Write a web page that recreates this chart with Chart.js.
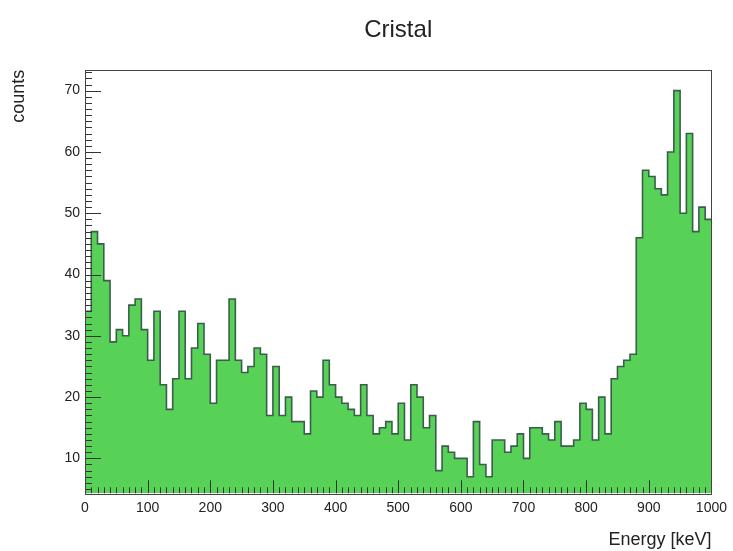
<!DOCTYPE html>
<html>
<head>
<meta charset="utf-8">
<title>Cristal</title>
<script src="https://cdn.jsdelivr.net/npm/chart.js@4/dist/chart.umd.min.js"></script>
<style>
  html, body { margin: 0; padding: 0; background: #fff; }
  canvas { display: block; }
</style>
</head>
<body>
<canvas id="chart" width="733" height="551"></canvas>
<script>
// Histogram: 100 bins of 10 keV between 0 and 1000 keV
const energyMin = 0;
const energyMax = 1000;
const binWidth = 10;
const counts = [
    34, 47, 45, 39, 29, 31, 30, 35, 36, 31,
    26, 34, 22, 18, 23, 34, 23, 28, 32, 27,
    19, 26, 26, 36, 26, 24, 25, 28, 27, 17,
    25, 17, 20, 16, 16, 14, 21, 20, 26, 22,
    20, 19, 18, 17, 22, 17, 14, 15, 16, 14,
    19, 13, 22, 20, 15, 17, 8, 12, 11, 10,
    10, 7, 16, 9, 7, 13, 13, 11, 12, 14,
    10, 15, 15, 14, 13, 16, 12, 12, 13, 19,
    18, 13, 20, 14, 23, 25, 26, 27, 46, 57,
    56, 54, 53, 60, 70, 50, 63, 47, 51, 49
];

// Axis settings
const xTickStep = 100;
const xMinorStep = 10;
const yTickStep = 10;
const yMinorStep = 1;
const yMin = 4.3;
const yMax = 73.4;

const FONT = "'Liberation Sans', Arial, Helvetica, sans-serif";
const TEXT = '#222';

// one point per bin low edge, plus the upper edge to close the last step
const points = counts.map((c, i) => ({ x: energyMin + i * binWidth, y: c }));
points.push({ x: energyMax, y: counts[counts.length - 1] });

// ROOT style frame with inward tick marks
const rootFrame = {
    id: 'rootFrame',
    afterDatasetsDraw(chart) {
        const { ctx, chartArea: a, scales: { x, y } } = chart;
        ctx.save();
        ctx.strokeStyle = '#333';
        ctx.lineWidth = 1;
        ctx.beginPath();
        for (let v = x.min; v <= x.max + 0.001; v += xMinorStep) {
            const px = Math.round(x.getPixelForValue(v)) + 0.5;
            const len = Math.abs(v % xTickStep) < 0.001 ? 13 : 6;
            ctx.moveTo(px, a.bottom);
            ctx.lineTo(px, a.bottom - len);
        }
        for (let v = Math.ceil(y.min); v <= y.max; v += yMinorStep) {
            const py = Math.round(y.getPixelForValue(v)) + 0.5;
            const len = v % yTickStep === 0 ? 16 : 7;
            ctx.moveTo(a.left, py);
            ctx.lineTo(a.left + len, py);
        }
        ctx.stroke();
        ctx.strokeStyle = '#444';
        ctx.strokeRect(Math.round(a.left) + 0.5, Math.round(a.top) + 0.5,
            Math.round(a.right - a.left), Math.round(a.bottom - a.top));
        ctx.restore();
    }
};

new Chart(document.getElementById('chart'), {
    type: 'line',
    data: {
        datasets: [{
            label: 'Cristal',
            data: points,
            stepped: true,
            fill: 'start',
            backgroundColor: '#57d257',
            borderColor: '#3b5e4c',
            borderWidth: 1.6,
            pointRadius: 0,
            tension: 0
        }]
    },
    options: {
        responsive: false,
        animation: false,
        layout: { autoPadding: false, padding: { left: 0, right: 19.7, top: 0, bottom: 0 } },
        plugins: {
            legend: { display: false },
            tooltip: { enabled: false },
            title: {
                display: true,
                fullSize: false,
                text: 'Cristal',
                color: TEXT,
                font: { family: FONT, size: 24, weight: 'normal' },
                padding: { top: 16, bottom: 25 }
            }
        },
        scales: {
            x: {
                type: 'linear',
                min: energyMin,
                max: energyMax,
                afterFit: s => { s.height = 551 - 493.3; },
                grid: { display: false, drawTicks: false },
                border: { display: false },
                ticks: {
                    stepSize: xTickStep,
                    autoSkip: false,
                    maxRotation: 0,
                    padding: 6,
                    color: TEXT,
                    font: { family: FONT, size: 14 },
                    callback: v => String(v)
                },
                title: {
                    display: true,
                    text: 'Energy [keV]',
                    align: 'end',
                    color: TEXT,
                    font: { family: FONT, size: 18 },
                    padding: { top: 0, bottom: 0 }
                }
            },
            y: {
                min: yMin,
                max: yMax,
                afterFit: s => { s.width = 85; },
                grid: { display: false, drawTicks: false },
                border: { display: false },
                ticks: {
                    stepSize: yTickStep,
                    includeBounds: false,
                    padding: 5,
                    color: TEXT,
                    font: { family: FONT, size: 14 },
                    callback: v => String(v)
                },
                title: {
                    display: true,
                    text: 'counts',
                    align: 'end',
                    color: TEXT,
                    font: { family: FONT, size: 18 },
                    padding: { top: 8, bottom: 0 }
                }
            }
        }
    },
    plugins: [rootFrame]
});
</script>
</body>
</html>
